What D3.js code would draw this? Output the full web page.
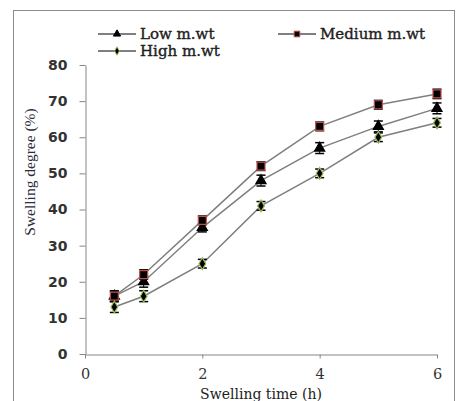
<!DOCTYPE html>
<html>
<head>
<meta charset="utf-8">
<script src="https://cdn.jsdelivr.net/npm/d3@7"></script>
<style>
  body { margin: 0; background: #fff; }
</style>
</head>
<body>
<script>
// swelling time (h)
const time = [0.5, 1, 2, 3, 4, 5, 6];
// swelling degree (%)
const lowMw = [16, 20, 35, 48, 57, 63, 68];
const mediumMw = [16, 22, 37, 52, 63, 69, 72];
const highMw = [13, 16, 25, 41, 50, 60, 64];
// error bars
const lowErr = [1.5, 1.5, 1.2, 1.5, 1.5, 1.5, 1.5];
const mediumErr = [1.3, 1.3, 1.2, 1.2, 1.2, 1.2, 1.3];
const highErr = [1.5, 1.5, 1.2, 1.2, 1.2, 1.2, 1.2];
const seriesNames = ["Low m.wt", "Medium m.wt", "High m.wt"];
const xTicks = [0, 2, 4, 6];
const yTicks = [0, 10, 20, 30, 40, 50, 60, 70, 80];

const width = 456, height = 401;

const svg = d3.create("svg")
    .attr("width", width)
    .attr("height", height)
    .attr("viewBox", [0, 0, width, height]);

// outer frame
svg.append("rect")
    .attr("x", 13.5).attr("y", 10.5)
    .attr("width", 441).attr("height", 420)
    .attr("fill", "none")
    .attr("stroke", "#8c8c8c");

const x = d3.scaleLinear().domain([0, 6]).range([85, 437]);
const y = d3.scaleLinear().domain([0, 80]).range([354, 65]);

const axisColor = "#868686";

// y axis
const gy = svg.append("g")
    .attr("transform", "translate(85.5,0)")
    .call(d3.axisLeft(y).tickValues(yTicks).tickSize(6).tickSizeOuter(0).tickPadding(12));
gy.select(".domain").attr("stroke", axisColor);
gy.selectAll(".tick line").attr("stroke", axisColor);
gy.selectAll(".tick text")
    .attr("fill", "#333")
    .style("font-family", "DejaVu Sans")
    .style("font-weight", "bold")
    .style("font-size", "14px");

// x axis
const gx = svg.append("g")
    .attr("transform", "translate(0,354.5)")
    .call(d3.axisBottom(x).tickValues(xTicks).tickFormat(d3.format("d"))
        .tickSize(4).tickSizeOuter(0).tickPadding(10));
gx.select(".domain").attr("stroke", axisColor);
gx.selectAll(".tick line").attr("stroke", axisColor);
gx.selectAll(".tick text")
    .attr("fill", "#333")
    .style("font-family", "DejaVu Serif")
    .style("font-size", "14.5px");

// axis titles
svg.append("text")
    .attr("x", 261).attr("y", 399)
    .attr("text-anchor", "middle")
    .attr("fill", "#222")
    .style("font-family", "DejaVu Serif")
    .style("font-size", "14px")
    .text("Swelling time (h)");

svg.append("text")
    .attr("transform", "translate(35,172) rotate(-90)")
    .attr("text-anchor", "middle")
    .attr("fill", "#2b2b3a")
    .style("font-family", "Liberation Serif")
    .style("font-size", "15.5px")
    .text("Swelling degree (%)");

const series = [
    { name: seriesNames[0], values: lowMw, err: lowErr, shape: d3.symbolTriangle, size: 45, fill: "#000", stroke: "#000" },
    { name: seriesNames[1], values: mediumMw, err: mediumErr, shape: d3.symbolSquare, size: 64, fill: "#000", stroke: "#c0504d" },
    { name: seriesNames[2], values: highMw, err: highErr, shape: d3.symbolDiamond, size: 40, fill: "#000", stroke: "#9bbb59" }
];

const line = d3.line().x(d => x(d[0])).y(d => y(d[1]));

// lines
series.forEach(s => {
    svg.append("path")
        .datum(time.map((t, i) => [t, s.values[i]]))
        .attr("d", line)
        .attr("fill", "none")
        .attr("stroke", "#7f7f7f")
        .attr("stroke-width", 1.5);
});

// error bars and markers
series.forEach(s => {
    const g = svg.append("g");
    time.forEach((t, i) => {
        const cx = x(t);
        const top = y(s.values[i] + s.err[i]);
        const bot = y(s.values[i] - s.err[i]);
        g.append("line").attr("x1", cx).attr("x2", cx).attr("y1", top).attr("y2", bot)
            .attr("stroke", "#000").attr("stroke-width", 1);
        [top, bot].forEach(yy => {
            g.append("line").attr("x1", cx - 4.5).attr("x2", cx + 4.5).attr("y1", yy).attr("y2", yy)
                .attr("stroke", "#000").attr("stroke-width", 1.5);
        });
    });
    g.selectAll("path.mark")
        .data(time.map((t, i) => [t, s.values[i]]))
        .join("path")
        .attr("class", "mark")
        .attr("transform", d => `translate(${x(d[0])},${y(d[1])})`)
        .attr("d", d3.symbol().type(s.shape).size(s.size))
        .attr("fill", s.fill)
        .attr("stroke", s.stroke)
        .attr("stroke-width", 1.2);
});

// legend
const legendPos = [[98, 34], [278, 34], [98, 51]];
series.forEach((s, i) => {
    const [lx, ly] = legendPos[i];
    const g = svg.append("g").attr("transform", `translate(${lx},${ly})`);
    g.append("line").attr("x1", 0).attr("x2", 38).attr("y1", 0).attr("y2", 0)
        .attr("stroke", "#000").attr("stroke-width", 1);
    g.append("path")
        .attr("transform", "translate(19,0)")
        .attr("d", d3.symbol().type(s.shape).size(s.size * 0.5))
        .attr("fill", s.fill)
        .attr("stroke", s.stroke)
        .attr("stroke-width", 1);
    g.append("text")
        .attr("x", 42).attr("y", 5)
        .attr("fill", "#1f1f1f")
        .style("font-family", "DejaVu Serif")
        .style("font-size", "15px")
        .style("stroke", "#1f1f1f")
        .style("stroke-width", "0.4px")
        .text(s.name);
});

d3.select("body").append(() => svg.node());
</script>
</body>
</html>
